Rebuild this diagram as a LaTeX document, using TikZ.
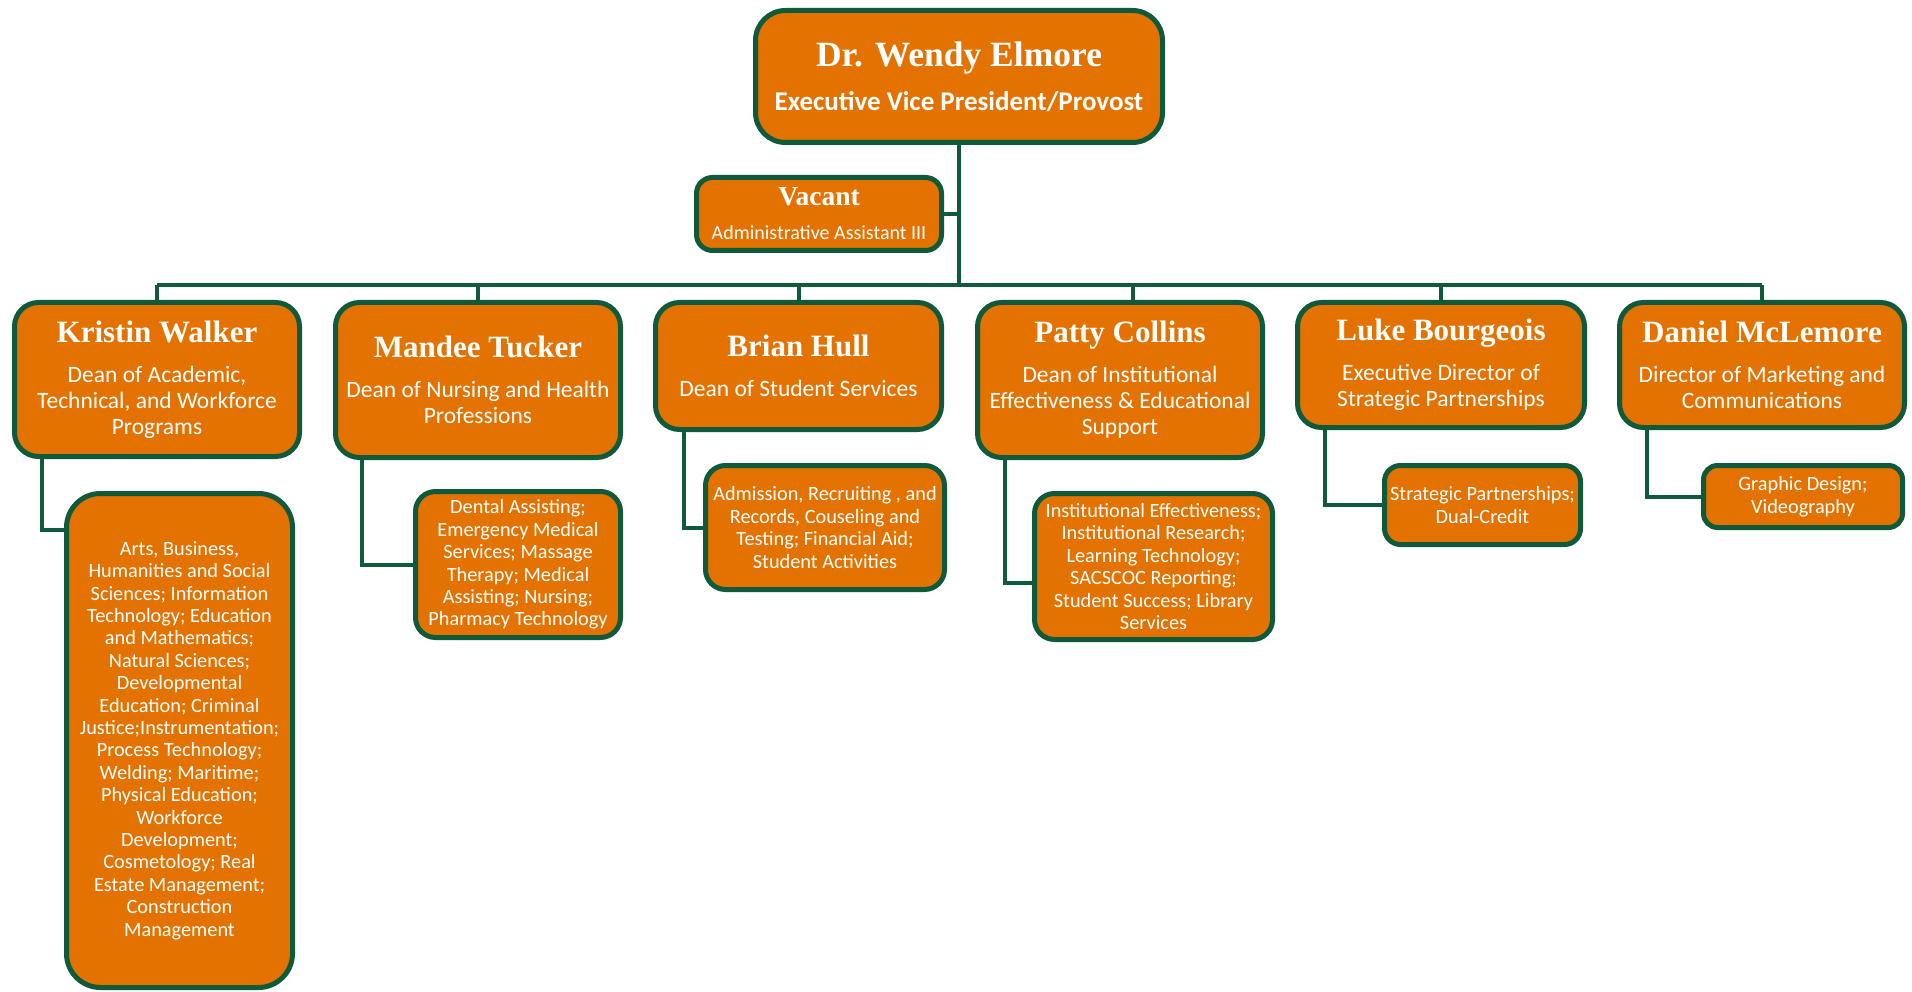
\documentclass[tikz,border=0pt]{standalone}
\usepackage{fontspec}
\setmainfont{Carlito}
\newfontfamily\namefont{Liberation Serif}
\usetikzlibrary{backgrounds}
\definecolor{org}{HTML}{E37200}
\definecolor{dkg}{HTML}{0E5A3A}
\newcommand{\nm}[2]{{\namefont\bfseries\fontsize{#1}{#1}\selectfont #2}}
\begin{document}
\begin{tikzpicture}[x=1pt,y=-1pt,
 box/.style={draw=dkg, fill=org, line width=5pt, rounded corners=24pt, text=white, align=center, inner sep=0pt, font=\fontsize{23.5}{26}\selectfont},
 sub/.style={box, rounded corners=20pt, font=\fontsize{20.3}{22.4}\selectfont},
 conn/.style={draw=dkg, line width=4pt}]
\useasboundingbox (0,0) rectangle (1912,992);

% top level
\node[box, minimum width=407pt, minimum height=132pt, rounded corners=30pt, font=\fontsize{27}{30}\selectfont] (top) at (959,76.5)
 {\nm{35.5}{Dr. Wendy Elmore}\\[14pt]{\bfseries Executive Vice President/Provost}};
\node[box, minimum width=245pt, minimum height=73pt, rounded corners=16pt, font=\fontsize{20}{21}\selectfont] (vac) at (819,214)
 {\nm{27.5}{Vacant}\\[13pt]Administrative Assistant III};

% level 2
\node[box, minimum width=285pt, minimum height=154pt] (kw) at (157,379.5)
 {\nm{31}{Kristin Walker}\\[14pt]Dean of Academic,\\Technical, and Workforce\\Programs};
\node[box, minimum width=285pt, minimum height=155pt] (mt) at (478,380)
 {\nm{31}{Mandee Tucker}\\[14pt]Dean of Nursing and Health\\Professions};
\node[box, minimum width=286pt, minimum height=127pt] (bh) at (798.5,366)
 {\nm{31}{Brian Hull}\\[14pt]Dean of Student Services};
\node[box, minimum width=285pt, minimum height=155pt] (pc) at (1120,380)
 {\nm{31}{Patty Collins}\\[14pt]Dean of Institutional\\Effectiveness \& Educational\\Support};
\node[box, minimum width=287pt, minimum height=125pt] (lb) at (1441,365)
 {\nm{31}{Luke Bourgeois}\\[14pt]Executive Director of\\Strategic Partnerships};
\node[box, minimum width=285pt, minimum height=125pt] (dm) at (1762,365)
 {\nm{31}{Daniel McLemore}\\[14pt]Director of Marketing and\\Communications};

% level 3
\node[sub, minimum width=226pt, minimum height=494pt, rounded corners=34pt] (ks) at (179.5,740.5)
 {Arts, Business,\\Humanities and Social\\Sciences; Information\\Technology; Education\\and Mathematics;\\Natural Sciences;\\Developmental\\Education; Criminal\\Justice;Instrumentation;\\Process Technology;\\Welding; Maritime;\\Physical Education;\\Workforce\\Development;\\Cosmetology; Real\\Estate Management;\\Construction\\Management};
\node[sub, minimum width=205pt, minimum height=146pt] (ms) at (518,564.5)
 {Dental Assisting;\\Emergency Medical\\Services; Massage\\Therapy; Medical\\Assisting; Nursing;\\Pharmacy Technology};
\node[sub, minimum width=239pt, minimum height=124pt] (bs) at (825,527.5)
 {Admission, Recruiting , and\\Records, Couseling and\\Testing; Financial Aid;\\Student Activities};
\node[sub, minimum width=238pt, minimum height=146pt] (ps) at (1153.5,566.5)
 {Institutional Effectiveness;\\Institutional Research;\\Learning Technology;\\SACSCOC Reporting;\\Student Success; Library\\Services};
\node[sub, minimum width=196pt, minimum height=79pt, rounded corners=16pt] (ls) at (1482.5,505)
 {Strategic Partnerships;\\Dual-Credit};
\node[sub, minimum width=199pt, minimum height=62pt, rounded corners=14pt] (ds) at (1803,496.5)
 {Graphic Design;\\Videography};

% connectors
\coordinate (busL) at (157,285);
\coordinate (busR) at (1762,285);
\coordinate (pcx) at (1133,285);
\coordinate (kd) at (42,530);
\coordinate (md) at (362,564.5);
\coordinate (bd) at (684,527.5);
\coordinate (pd) at (1005,583);
\coordinate (ld) at (1325,505);
\coordinate (dd) at (1647,496.5);
\begin{scope}[on background layer]
\fill[white] (0,0) rectangle (1912,992);
\draw[conn] (top.south) -- (top.south |- busL);
\draw[conn] (vac.east) -- (vac.east -| top.south);
\draw[conn] (busL) -- (busR);
\draw[conn] (busL) -- (kw.north);
\draw[conn] (mt.north |- busL) -- (mt.north);
\draw[conn] (bh.north |- busL) -- (bh.north);
\draw[conn] (pcx) -- (pcx |- pc.north);
\draw[conn] (lb.north |- busL) -- (lb.north);
\draw[conn] (busR) -- (dm.north);
\draw[conn] (kd |- kw.south) -- (kd) -- (kd -| ks.west);
\draw[conn] (md |- mt.south) -- (md) -- (ms.west);
\draw[conn] (bd |- bh.south) -- (bd) -- (bs.west);
\draw[conn] (pd |- pc.south) -- (pd) -- (pd -| ps.west);
\draw[conn] (ld |- lb.south) -- (ld) -- (ls.west);
\draw[conn] (dd |- dm.south) -- (dd) -- (ds.west);
\end{scope}
\end{tikzpicture}
\end{document}
